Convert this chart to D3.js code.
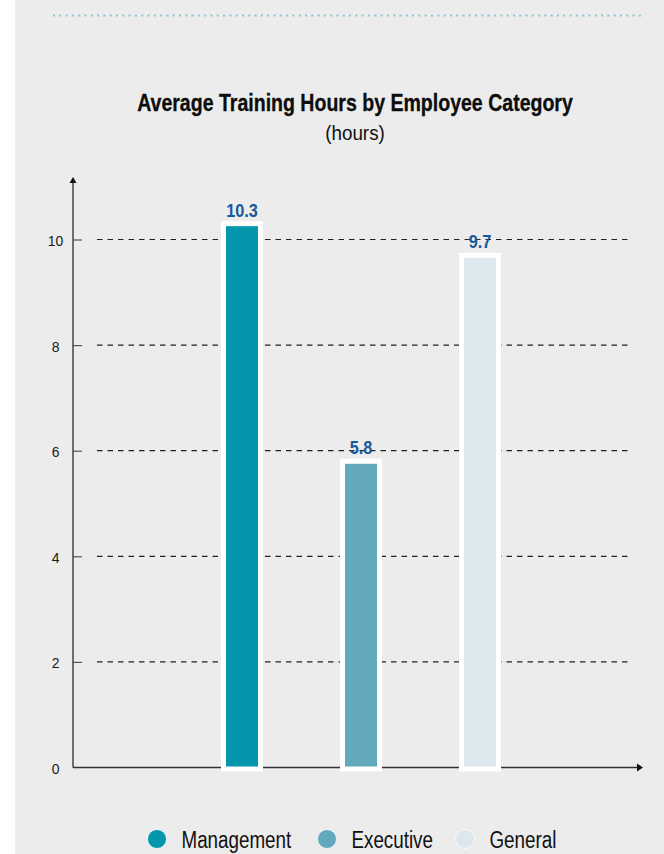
<!DOCTYPE html>
<html lang="en">
<head>
    <meta charset="UTF-8">
    <title>Average Training Hours</title>
    <style>
        body { margin: 0; background: #fff; }
        svg text { font-family: "Liberation Sans", Arial, sans-serif; }
    </style>
</head>
<body>
    <svg id="container" width="664" height="854">
        <rect x="15" y="0" width="649" height="854" fill="#ececec"></rect>
        <g id="grid"></g>
        <g id="yAxis"></g>
        <g id="xAxis"></g>
        <g id="body"></g>
        <g id="labels"></g>
        <g id="legend"></g>
    </svg>

<script src="https://cdn.jsdelivr.net/npm/d3@7/dist/d3.min.js"></script>

<script>

    let categories = ["Management", "Executive", "General"]
    let hours = [10.3, 5.8, 9.7]
    let colors = ["#0496ac", "#62a9be", "#dce7ee"]
    let yTicks = [0, 2, 4, 6, 8, 10]

    let svg = d3.select("#container")

    // the reference font is a condensed grotesque, so squeeze Liberation Sans sideways
    function narrowText(parent, x, y, sx) {
        return parent.append("g")
            .attr("transform", "translate(" + x + "," + y + ") scale(" + sx + ",1)")
            .append("text")
    }

    // dotted rule across the top
    svg.append("line")
        .attr("x1", 53).attr("x2", 644)
        .attr("y1", 15.5).attr("y2", 15.5)
        .attr("stroke", "#84c8d2")
        .attr("stroke-width", 2)
        .attr("stroke-dasharray", "2,4.3")

    narrowText(svg, 355, 111, 0.85)
        .attr("text-anchor", "middle")
        .attr("font-weight", "bold")
        .attr("font-size", 23)
        .attr("fill", "#0d0d0d")
        .attr("stroke", "#0d0d0d")
        .attr("stroke-width", 0.3)
        .text("Average Training Hours by Employee Category")

    narrowText(svg, 355, 140, 0.92)
        .attr("text-anchor", "middle")
        .attr("font-size", 20.5)
        .attr("fill", "#111")
        .text("(hours)")

    let yScale = d3.scaleLinear()
        .domain([0, 10])
        .range([767.5, 239.5])

    let xScale = d3.scaleBand()
        .domain(categories)
        .range([182.5, 539.5])
        .paddingInner(0.689)
        .paddingOuter(0.3445)

    // dashed grid lines
    d3.select("#grid")
        .selectAll("line")
        .data(yTicks.filter(d => d > 0))
        .enter()
        .append("line")
        .attr("x1", 97).attr("x2", 630)
        .attr("y1", d => yScale(d)).attr("y2", d => yScale(d))
        .attr("stroke", "#222")
        .attr("stroke-width", 1.2)
        .attr("stroke-dasharray", "5.5,5")

    let yAxis = d3.axisLeft(yScale)
        .tickValues(yTicks)
        .tickSize(-9)
        .tickSizeOuter(0)
    let yG = d3.select("#yAxis")
        .attr("transform", "translate(73,0)")
        .call(yAxis)
    yG.select(".domain").remove()
    yG.selectAll(".tick line").attr("stroke", "#555").attr("stroke-width", 1.2)
    yG.selectAll(".tick text")
        .attr("x", 0)
        .attr("transform", "translate(-17.5,1) scale(0.9,1)")
        .attr("text-anchor", "middle")
        .attr("font-size", 15.5)
        .attr("font-family", "Liberation Sans, Arial, sans-serif")
        .attr("fill", "#1a1a1a")
    yG.selectAll(".tick").filter(d => d == 0).select("line").remove()
    yG.append("line")
        .attr("x1", 0).attr("x2", 0)
        .attr("y1", yScale(0)).attr("y2", 182)
        .attr("stroke", "#444").attr("stroke-width", 1.5)
    yG.append("path")
        .attr("d", "M-3.5,183 L0,177 L3.5,183 Z")
        .attr("fill", "#111")

    let xG = d3.select("#xAxis")
    xG.append("line")
        .attr("x1", 73).attr("x2", 638)
        .attr("y1", yScale(0)).attr("y2", yScale(0))
        .attr("stroke", "#333").attr("stroke-width", 1.6)
    xG.append("path")
        .attr("d", "M637," + (yScale(0) - 4) + " L643," + yScale(0) + " L637," + (yScale(0) + 4) + " Z")
        .attr("fill", "#111")

    // bars
    d3.select("#body")
        .selectAll("rect")
        .data(hours)
        .enter()
        .append("rect")
        .attr("x", (d, i) => xScale(categories[i]))
        .attr("y", d => yScale(d))
        .attr("width", xScale.bandwidth())
        .attr("height", d => yScale(0) - yScale(d) + 1.5)
        .attr("fill", (d, i) => colors[i])
        .attr("stroke", "#fff")
        .attr("stroke-width", 5)

    let labels = d3.select("#labels")
    hours.forEach((d, i) => {
        narrowText(labels, xScale(categories[i]) + xScale.bandwidth() / 2, yScale(d) - 7, 0.88)
            .attr("text-anchor", "middle")
            .attr("font-weight", "bold")
            .attr("font-size", 18.5)
            .attr("fill", "#175a9c")
            .text(d.toFixed(1))
    })

    // legend
    let legendX = [157, 327, 465]
    let legend = d3.select("#legend")
        .selectAll("g")
        .data(categories)
        .enter()
        .append("g")
        .attr("transform", (d, i) => "translate(" + legendX[i] + ",839)")
    legend.append("circle")
        .attr("r", 9.5)
        .attr("fill", (d, i) => colors[i])
        .attr("stroke", "#fff")
        .attr("stroke-width", 0.8)
    legend.each(function (d) {
        narrowText(d3.select(this), 24.5, 8.7, 0.8)
            .attr("font-size", 23.5)
            .attr("fill", "#111")
            .text(d)
    })

</script>
</body>
</html>
